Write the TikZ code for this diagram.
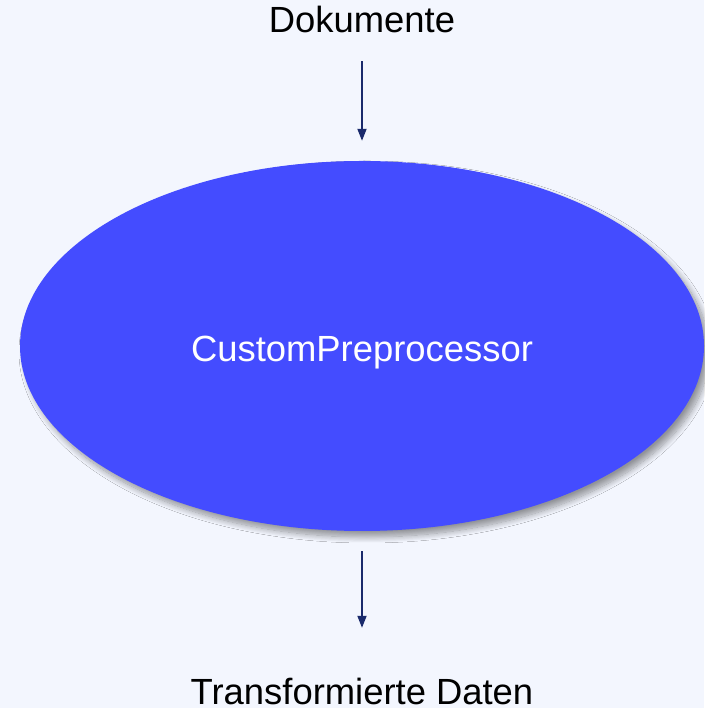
\documentclass[tikz,border=0pt]{standalone}
\usepackage{fontspec}
\setmainfont{Liberation Sans}
\usetikzlibrary{shapes.geometric,arrows.meta,shadows.blur}
\definecolor{bgcol}{HTML}{F3F6FE}
\definecolor{procfill}{HTML}{444CFF}
\definecolor{arrowcol}{HTML}{1A2A6C}
\tikzset{
  lbl/.style={inner sep=0pt, anchor=base, text height=26pt, text depth=8pt,
    font=\fontsize{36.4}{43}\selectfont, text=black},
  proc/.style={ellipse, fill=procfill, draw=none, minimum width=684pt,
    minimum height=370pt, inner sep=0pt, text=white,
    text height=32pt, text depth=0pt,
    font=\fontsize{36.4}{43}\selectfont,
    blur shadow={shadow xshift=5pt, shadow yshift=-6pt, shadow blur steps=12,
      shadow blur radius=6pt, shadow opacity=40}},
  flow/.style={draw=arrowcol, line width=1.8pt,
    -{Triangle[length=12pt,width=9pt]}}
}
\begin{document}
\begin{tikzpicture}[x=1pt,y=1pt]
  \fill[bgcol] (0,0) rectangle (704,708);
  \useasboundingbox (0,0) rectangle (704,708);
  \node[lbl] (doc) at (362,675) {Dokumente};
  \node[proc] (pre) at (362,362) {CustomPreprocessor};
  \node[lbl, text depth=0pt] (out) at (362,3) {Transformierte Daten};
  \draw[flow, shorten <=20pt, shorten >=51pt] (pre.south) -- (out.north);
  \draw[flow, shorten <=20pt, shorten >=20pt] (doc.south) -- (pre.north);
\end{tikzpicture}
\end{document}
